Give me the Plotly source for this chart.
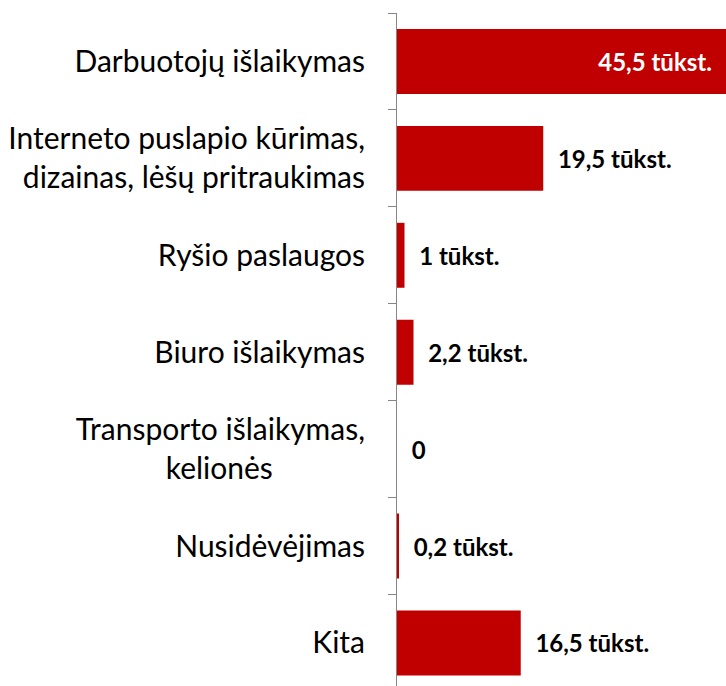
import plotly.graph_objects as go

categories = [
    "Darbuotojų išlaikymas",
    "Interneto puslapio kūrimas,<br>dizainas, lėšų pritraukimas",
    "Ryšio paslaugos",
    "Biuro išlaikymas",
    "Transporto išlaikymas,<br>kelionės" + "\u00a0" * 12,
    "Nusidėvėjimas",
    "Kita",
]
values = [45.5, 19.5, 1.0, 2.2, 0.0, 0.2, 16.5]
value_labels = ["45,5 tūkst.", "19,5 tūkst.", "1 tūkst.", "2,2 tūkst.", "0", "0,2 tūkst.", "16,5 tūkst."]

NB = "\u00a0"
texts = []
positions = []
for i, (v, lab) in enumerate(zip(values, value_labels)):
    if i == 0:
        texts.append(lab + NB * 4)
        positions.append("inside")
    else:
        texts.append(NB * 2 + lab)
        positions.append("outside")

fig = go.Figure(
    go.Bar(
        y=categories,
        x=values,
        orientation="h",
        marker=dict(color="#C00000", line=dict(width=0)),
        text=texts,
        textposition=positions,
        insidetextanchor="end",
        insidetextfont=dict(family="Lato", size=24, color="white", weight="bold"),
        outsidetextfont=dict(family="Lato", size=24, color="black", weight="bold"),
        constraintext="none",
        cliponaxis=True,
        hoverinfo="skip",
    )
)

fig.update_layout(
    width=726,
    height=686,
    margin=dict(l=397, r=0, t=13, b=0),
    paper_bgcolor="white",
    plot_bgcolor="white",
    bargap=0.33,
    showlegend=False,
    font=dict(family="Lato", size=30, color="#000000"),
)
fig.update_xaxes(
    range=[0, 43.87],
    visible=False,
    showgrid=False,
    zeroline=False,
)
fig.update_yaxes(
    type="category",
    categoryorder="array",
    categoryarray=categories,
    range=[6.444, -0.5],
    showline=True,
    linecolor="#868686",
    linewidth=1,
    ticks="outside",
    ticklen=8,
    tickcolor="#868686",
    tickson="boundaries",
    ticklabelstandoff=25,
    showgrid=False,
    tickfont=dict(family="Lato", size=30, color="#000000"),
)

fig.write_html(
    "out.html",
    config={"displayModeBar": False},
    post_script="document.body.style.margin='0';document.body.style.overflow='hidden';",
)
